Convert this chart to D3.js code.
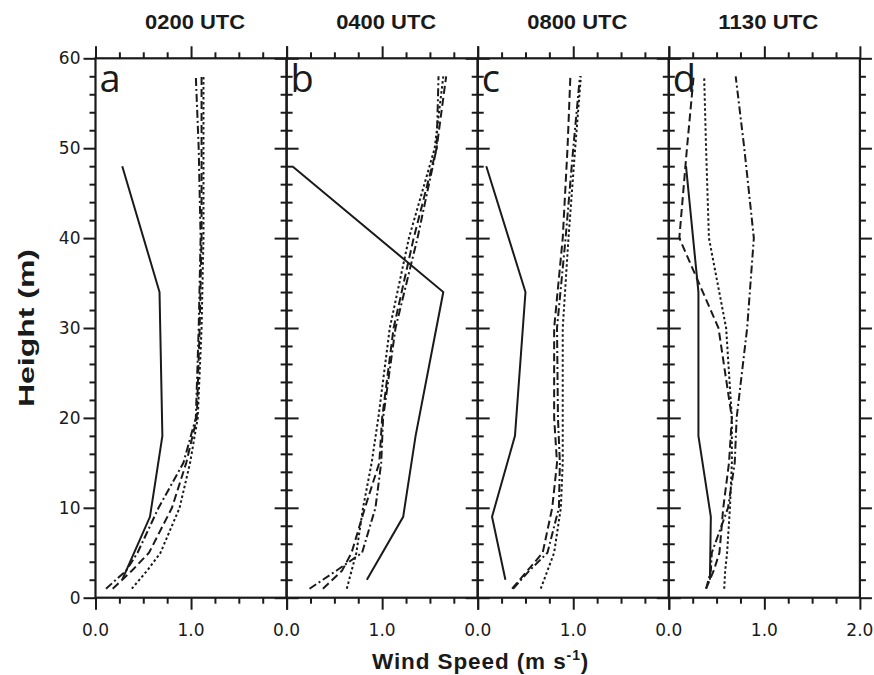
<!DOCTYPE html>
<meta charset="utf-8">
<script src="https://d3js.org/d3.v7.min.js"></script>
<style>
body { margin: 0; background: #fff; }
</style>
<div id="chart"></div>
<script>
// wind speed profiles, one panel per time
const panelLetters = ["a", "b", "c", "d"];
const panelTitles = ["0200 UTC", "0400 UTC", "0800 UTC", "1130 UTC"];

// heights (m)
const solidHeights = [2, 9, 18, 34, 48];
const towerHeights = [1, 3, 5, 10, 15, 20, 30, 40, 50, 58];

// wind speed (m s-1), one row per panel
const solidSpeed = [
  [0.28, 0.57, 0.70, 0.67, 0.28],
  [0.84, 1.22, 1.35, 1.64, 0.06],
  [0.29, 0.15, 0.39, 0.50, 0.09],
  [0.43, 0.44, 0.31, 0.31, 0.18]
];
const dashedSpeed = [
  [0.18, 0.38, 0.56, 0.80, 0.95, 1.06, 1.09, 1.11, 1.11, 1.11],
  [0.38, 0.58, 0.68, 0.82, 0.97, 1.00, 1.12, 1.33, 1.57, 1.67],
  [0.36, 0.52, 0.68, 0.78, 0.83, 0.80, 0.80, 0.89, 0.94, 0.97],
  [0.39, 0.47, 0.53, 0.57, 0.63, 0.66, 0.52, 0.11, 0.19, 0.26]
];
const dashDotSpeed = [
  [0.11, 0.32, 0.44, 0.66, 0.92, 1.05, 1.08, 1.10, 1.08, 1.05],
  [0.24, 0.52, 0.79, 0.93, 0.99, 1.01, 1.14, 1.37, 1.57, 1.59],
  [0.37, 0.54, 0.73, 0.85, 0.86, 0.84, 0.83, 0.92, 1.00, 1.07],
  [0.39, 0.44, 0.45, 0.62, 0.69, 0.71, 0.82, 0.89, 0.79, 0.70]
];
const dottedSpeed = [
  [0.38, 0.54, 0.68, 0.88, 0.99, 1.07, 1.11, 1.13, 1.13, 1.13],
  [0.63, 0.68, 0.73, 0.80, 0.89, 0.96, 1.08, 1.28, 1.55, 1.64],
  [0.66, 0.73, 0.80, 0.87, 0.89, 0.89, 0.89, 0.95, 1.02, 1.08],
  [0.58, 0.59, 0.61, 0.64, 0.66, 0.66, 0.60, 0.42, 0.39, 0.37]
];

const xMajor = [0, 1, 2];
const xMinor = [0.25, 0.5, 0.75, 1.25, 1.5, 1.75];
const yMajor = [0, 10, 20, 30, 40, 50, 60];
const yMinor = d3.range(2, 60, 2).filter(v => v % 10 !== 0);

const W = 874, H = 675;
const plotLeft = 95.5, plotTop = 58.3, pw = 191.1, ph = 539.4;
const ink = "#1a1a1a";

const svg = d3.select("#chart").append("svg")
  .attr("width", W).attr("height", H);

const x = d3.scaleLinear().domain([0, 2]).range([0, pw]);
const y = d3.scaleLinear().domain([0, 60]).range([ph, 0]);

const series = [
  {data: dottedSpeed, dash: "2.5,2.5"},
  {data: dashDotSpeed, dash: "8,3,2,3"},
  {data: dashedSpeed, dash: "8,4"}
];

function ticks(g, axis, vals, size) {
  g.call(axis.tickValues(vals).tickSize(size).tickFormat(""))
    .call(s => s.select(".domain").remove())
    .selectAll("line").attr("stroke", ink).attr("stroke-width", 2);
}

panelLetters.forEach((letter, i) => {
  const g = svg.append("g")
    .attr("transform", `translate(${plotLeft + i * pw},${plotTop})`);

  // ticks, all pointing outward
  [[xMinor, 6], [xMajor, 12]].forEach(([v, s]) => {
    ticks(g.append("g").attr("transform", `translate(0,${ph})`), d3.axisBottom(x), v, s);
    ticks(g.append("g"), d3.axisTop(x), v, s);
  });
  [[yMinor, 6], [yMajor, 12]].forEach(([v, s]) => {
    ticks(g.append("g"), d3.axisLeft(y), v, s);
    ticks(g.append("g").attr("transform", `translate(${pw},0)`), d3.axisRight(y), v, s);
  });

  // profiles
  const line = d3.line().x(d => x(d[0])).y(d => y(d[1]));
  series.forEach(sr => {
    g.append("path")
      .datum(sr.data[i].map((v, k) => [v, towerHeights[k]]))
      .attr("d", line)
      .attr("fill", "none")
      .attr("stroke", ink)
      .attr("stroke-width", 2)
      .attr("stroke-dasharray", sr.dash);
  });
  g.append("path")
    .datum(solidSpeed[i].map((v, k) => [v, solidHeights[k]]))
    .attr("d", line)
    .attr("fill", "none")
    .attr("stroke", ink)
    .attr("stroke-width", 2);

  // frame
  g.append("rect")
    .attr("width", pw).attr("height", ph)
    .attr("fill", "none").attr("stroke", ink).attr("stroke-width", 2.2);

  // panel letter
  g.append("text")
    .attr("x", 4).attr("y", 34)
    .attr("font-family", "Open Sans, sans-serif")
    .attr("font-size", 38)
    .attr("fill", ink)
    .text(letter);

  // title
  g.append("text")
    .attr("x", pw / 2 + 4).attr("y", 29 - plotTop)
    .attr("text-anchor", "middle")
    .attr("font-family", "Liberation Sans, Arial, sans-serif")
    .attr("font-weight", "bold")
    .attr("font-size", 21)
    .attr("textLength", 100)
    .attr("lengthAdjust", "spacingAndGlyphs")
    .attr("fill", ink)
    .text(panelTitles[i]);

  // x tick labels
  const labs = i === panelLetters.length - 1 ? xMajor : xMajor.slice(0, 2);
  g.selectAll(".xl").data(labs).enter().append("text")
    .attr("x", d => x(d)).attr("y", ph + 38.5)
    .attr("text-anchor", "middle")
    .attr("font-family", "DejaVu Sans, sans-serif")
    .attr("font-size", 17)
    .attr("fill", ink)
    .text(d3.format(".1f"));

  if (i === 0) {
    g.selectAll(".yl").data(yMajor).enter().append("text")
      .attr("x", -15).attr("y", d => y(d))
      .attr("dy", "0.36em")
      .attr("text-anchor", "end")
      .attr("font-family", "DejaVu Sans, sans-serif")
      .attr("font-size", 17)
      .attr("fill", ink)
      .text(d => d);
  }
});

// axis titles
svg.append("text")
  .attr("transform", "translate(34,328) rotate(-90)")
  .attr("text-anchor", "middle")
  .attr("font-family", "Liberation Sans, Arial, sans-serif")
  .attr("font-weight", "bold")
  .attr("font-size", 22)
  .attr("textLength", 158)
  .attr("lengthAdjust", "spacingAndGlyphs")
  .attr("fill", ink)
  .text("Height (m)");

const xt = svg.append("text")
  .attr("x", 372).attr("y", 669)
  .attr("font-family", "Liberation Sans, Arial, sans-serif")
  .attr("font-weight", "bold")
  .attr("font-size", 22.5)
  .attr("letter-spacing", 0.9)
  .attr("fill", ink);
xt.append("tspan").text("Wind Speed (m s");
xt.append("tspan").attr("dy", -9).attr("font-size", 14).text("-1");
xt.append("tspan").attr("dy", 9).text(")");
</script>
